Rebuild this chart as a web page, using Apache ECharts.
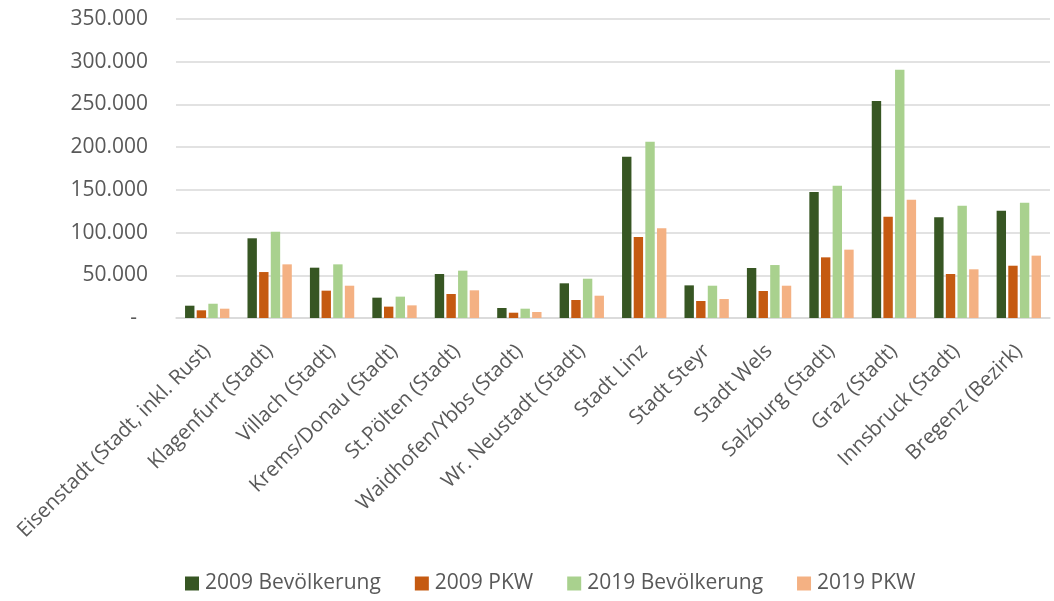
<!DOCTYPE html>
<html><head><meta charset="utf-8">
<script src="https://cdn.jsdelivr.net/npm/echarts@6/dist/echarts.min.js"></script>
<style>html,body{margin:0;padding:0;background:#fff}#c{width:1054px;height:601px}</style>
</head><body><div id="c"></div>
<script>
const categories = ["Eisenstadt (Stadt, inkl. Rust)","Klagenfurt (Stadt)","Villach (Stadt)","Krems/Donau (Stadt)","St.Pölten (Stadt)","Waidhofen/Ybbs (Stadt)","Wr. Neustadt (Stadt)","Stadt Linz","Stadt Steyr","Stadt Wels","Salzburg (Stadt)","Graz (Stadt)","Innsbruck (Stadt)","Bregenz (Bezirk)"];
const pop2009 = [14400, 93300, 58900, 23800, 51500, 11700, 40600, 188800, 38200, 58500, 147500, 254000, 117800, 125600];
const pkw2009 = [9000, 53800, 32000, 13300, 28100, 6200, 21100, 94800, 19900, 31600, 71000, 118600, 51500, 61200];
const pop2019 = [16700, 101000, 62800, 25000, 55400, 10900, 46000, 206400, 37800, 62000, 154900, 290700, 131500, 135000];
const pkw2019 = [10900, 62800, 37800, 14800, 32400, 7000, 26100, 105000, 22200, 37800, 80000, 138500, 57000, 73000];
const seriesNames = ["2009 Bevölkerung","2009 PKW","2019 Bevölkerung","2019 PKW"];
const colors = ["#375623","#C55A11","#A9D18E","#F4B183"];
const yMax = 350000, yStep = 50000;

const font = '"Open Sans", "Noto Sans", sans-serif';
const chart = echarts.init(document.getElementById('c'), null, {renderer:'canvas'});
const fmt = v => v === 0 ? '-  ' : String(v).replace(/\B(?=(\d{3})+(?!\d))/g, '.');
const data = [pop2009, pkw2009, pop2019, pkw2019];
chart.setOption({
  animation: false,
  color: colors,
  textStyle: {fontFamily: font},
  grid: {left: 176, right: 4, top: 19, bottom: 283, containLabel: false},
  legend: {
    top: 568, left: 180, itemWidth: 14, itemHeight: 14, itemGap: 34,
    icon: 'rect',
    textStyle: {fontSize: 21, color: '#595959', fontFamily: font, padding: [0,0,0,1]},
    data: seriesNames
  },
  xAxis: {
    type: 'category', data: categories,
    axisLine: {lineStyle: {color: '#D9D9D9', width: 1.5}},
    axisTick: {show: false},
    axisLabel: {interval: 0, rotate: 45, fontSize: 20.5, color: '#595959', fontFamily: font, margin: 30}
  },
  yAxis: {
    type: 'value', min: 0, max: yMax, interval: yStep,
    axisLine: {show: false}, axisTick: {show: false},
    splitLine: {lineStyle: {color: '#D9D9D9', width: 1.5}},
    axisLabel: {fontSize: 21, color: '#595959', fontFamily: font, margin: 28, formatter: fmt}
  },
  series: seriesNames.map((n, i) => ({
    name: n, type: 'bar', data: data[i],
    barGap: '24%', barCategoryGap: '29%',
    itemStyle: {color: colors[i]}
  }))
});
</script></body></html>
